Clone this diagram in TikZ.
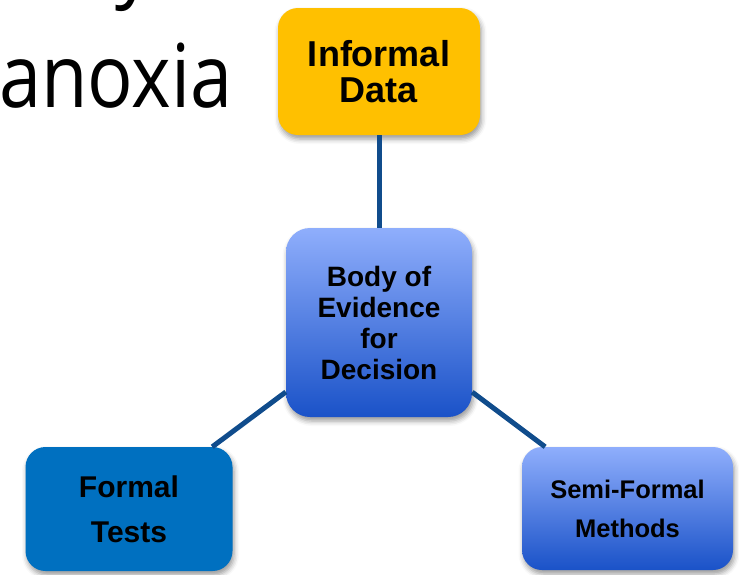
\documentclass[tikz,border=0pt]{standalone}
\usepackage{fontspec}
\setmainfont{Liberation Sans}
\newfontfamily\slidefont{Open Sans}
\usetikzlibrary{shadows.blur}

\definecolor{amber}{RGB}{255,192,0}
\definecolor{ocean}{RGB}{0,112,192}
\definecolor{skytop}{RGB}{143,174,252}
\definecolor{skybot}{RGB}{26,82,200}
\definecolor{linkblue}{RGB}{16,76,140}

\tikzset{
  card/.style={rounded corners=20pt, align=center, inner sep=0pt,
    blur shadow={shadow xshift=1.5pt, shadow yshift=-4pt,
      shadow blur radius=5pt, shadow opacity=40}},
  skyfill/.style={top color=skytop, bottom color=skybot},
  link/.style={draw=linkblue, line width=5pt},
  slidetext/.style={inner sep=0pt, font=\slidefont\fontsize{88}{88}\selectfont}
}

\begin{document}
\begin{tikzpicture}[x=1pt, y=-1pt]
\useasboundingbox (0,0) rectangle (739,574);
\clip (0,0) rectangle (739,574);

% slide heading, partly cut off
\node[slidetext, anchor=base] (prevline) at (135,-10) {\scalebox{0.86}[1]{y}};
\node[slidetext, anchor=base east] (heading) at (233,107) {\scalebox{0.86}[1]{anoxia}};

% boxes
\node[card, fill=amber, minimum width=202pt, minimum height=127pt,
  font=\bfseries\fontsize{36}{36}\selectfont] (inf) at (379,71.5) {Informal\\Data};
\node[card, skyfill, rounded corners=24pt, minimum width=186pt, minimum height=189pt,
  font=\bfseries\fontsize{28}{31}\selectfont] (body) at (379,322.5)
  {Body of\\Evidence\\for\\Decision};
\node[card, fill=ocean, minimum width=207pt, minimum height=124pt,
  font=\bfseries\fontsize{30}{45}\selectfont] (formal) at (129,509) {Formal\\Tests};
\node[card, skyfill, minimum width=211pt, minimum height=123pt,
  font=\bfseries\fontsize{25.5}{39}\selectfont] (semi) at (627.5,508.5) {Semi-Formal\\Methods};

% connectors
\draw[link] (inf.south) -- (body.north);
\draw[link] (body) -- (formal);
\draw[link] (body) -- (semi);
\end{tikzpicture}
\end{document}
